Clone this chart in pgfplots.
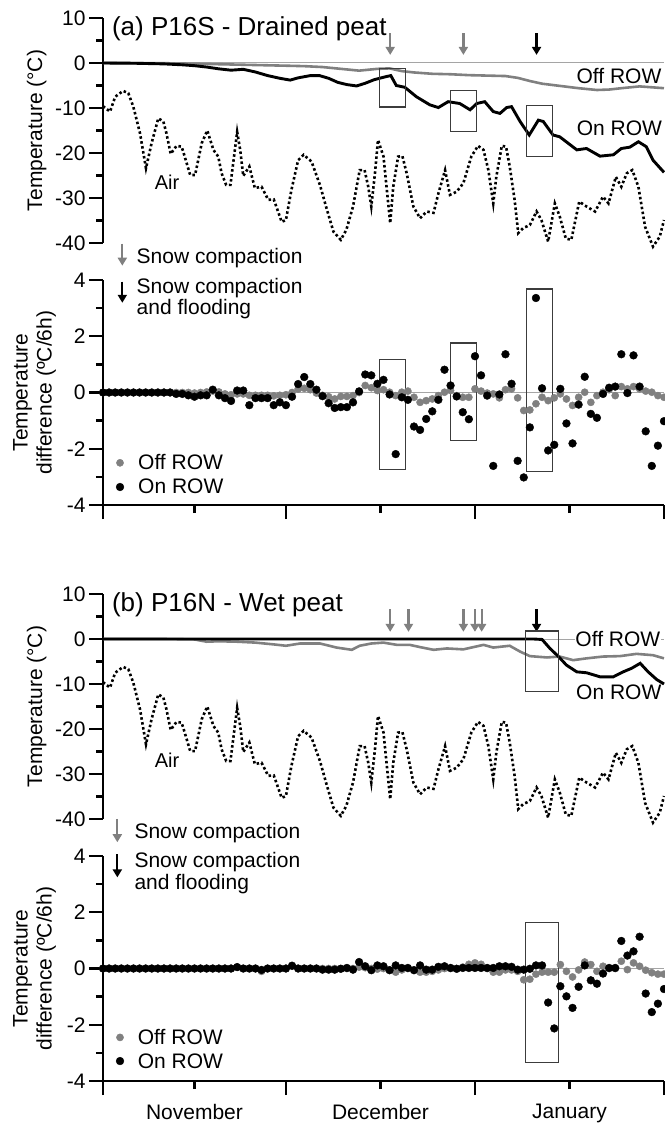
\documentclass[border=0pt]{standalone}
\usepackage{fontspec}
\setmainfont{Liberation Sans}
\usepackage{pgfplots}
\pgfplotsset{compat=1.18}
\usetikzlibrary{arrows.meta}

\definecolor{offrow}{RGB}{128,128,128}
\definecolor{zeroline}{RGB}{165,165,165}
\definecolor{boxline}{RGB}{60,60,60}

\newcommand{\lab}{\fontsize{21}{24}\selectfont}
\newcommand{\ttl}{\fontsize{26}{30}\selectfont}

\tikzset{box/.style={boxline, line width=1.2pt}}

\pgfplotsset{
  base/.style={
    scale only axis, width=561pt, height=225pt,
    xmin=0, xmax=92, clip=false,
    axis y line*=left,
    axis line style={-, line width=2.6pt},
    tick style={black, line width=2.4pt},
    tick align=outside,
    major tick length=14pt, minor tick length=7pt,
    minor y tick num=1,
    tick label style={font=\lab},
    label style={font=\lab},
    /pgf/number format/assume math mode=true,
  },
  temp/.style={base, axis x line=none, xtick=\empty,
    ymin=-40, ymax=10, ytick={-40,-30,...,10},
    ylabel={Temperature (°C)},
    ylabel style={at={(axis description cs:-0.118,0.5)}, anchor=center}},
  diff/.style={base, axis x line*=bottom,
    ymin=-4, ymax=4, ytick={-4,-2,...,4},
    xtick={0,30,61,92}, xticklabels={},
    extra x ticks={15,45.5,76.5},
    extra x tick style={major tick length=8pt},
    xticklabel style={yshift=-12pt},
    ylabel={Temperature\\difference (ºC/6h)},
    ylabel style={align=center, at={(axis description cs:-0.122,0.5)}, anchor=center}},
  offline/.style={offrow, line width=2.6pt},
  online/.style={black, line width=2.9pt},
  airline/.style={black, line width=2.6pt, dash pattern=on 2.5pt off 2.5pt},
  zero/.style={zeroline, line width=1pt},
  offdot/.style={only marks, mark=*, mark size=3.6pt, color=offrow},
  ondot/.style={only marks, mark=*, mark size=3.9pt, color=black},
  carrow/.style={offrow, line width=2.3pt, -{Triangle[width=9pt,length=8pt]}},
  farrow/.style={black, line width=2.3pt, -{Triangle[width=9pt,length=8pt]}},
}

\begin{document}
\begin{tikzpicture}

% ---------- (a) temperatures ----------
\begin{axis}[temp, at={(103pt,-243pt)}, anchor=south west]
\addplot[zero] coordinates {(0,0) (92,0)};
\addplot[offline] coordinates {
(0,0) (10,-0.05) (15,-0.15) (20,-0.3) (25,-0.45) (30,-0.6) (33,-0.7) (36,-0.9)
(39,-1.3) (42,-1.7) (45,-1.3) (47,-1.2) (49,-1.8) (51,-2.1) (54,-2.4) (57,-2.5)
(60,-2.7) (63,-2.8) (66,-2.9) (68,-3.3) (70,-4.0) (72,-4.6) (75,-5.1) (78,-5.6)
(81,-6.0) (83,-5.9) (85,-5.6) (88,-5.2) (90,-5.4) (92,-5.6)};
\addplot[online] coordinates {
(0,0) (5,-0.05) (10,-0.2) (13,-0.4) (15,-0.6) (17,-0.9) (19,-1.3) (21,-1.6)
(23,-1.4) (25,-2.0) (27,-2.8) (29,-3.4) (30.7,-3.8) (32,-3.3) (34,-2.8) (35.5,-2.8)
(37,-3.4) (38.5,-4.3) (40,-4.8) (41.6,-5.1) (43,-4.5) (44.5,-3.7) (46.5,-3.0)
(47.2,-2.8) (48.1,-5.0) (49.5,-5.4) (51.4,-7.5) (53.6,-9.3) (55,-9.9) (56.6,-8.6)
(58.5,-9.0) (60.2,-10.4) (61.3,-9.0) (62.6,-8.6) (64,-10.8) (65.1,-11.2) (66.2,-9.9)
(67,-9.7) (68.4,-13.0) (69.9,-16.0) (71.4,-12.7) (72.2,-13.0) (73.8,-16.0) (74.9,-16.4)
(77.7,-19.3) (79.3,-19.0) (81.5,-20.7) (83.7,-20.4) (85,-19.0) (86.4,-18.7) (87.8,-17.5)
(89.1,-18.6) (90.2,-21.6) (92,-24.3)};
\addplot[airline] coordinates {
(0,-9.6) (1.15,-10.8) (2.0,-7.5) (3.3,-6.2) (4.15,-6.7) (4.97,-9.7) (6.07,-15.6)
(7.05,-23.4) (7.97,-17.8) (9.07,-12.3) (9.9,-13) (10.4,-15.6) (11.1,-20.2) (12.07,-18.4)
(12.9,-18.6) (13.4,-20.8) (14.3,-24.9) (15.1,-24.9) (16.2,-17.8) (17.1,-15.0) (18.1,-19.3)
(18.9,-20.8) (19.45,-24.5) (20.2,-27.1) (20.9,-27.1) (22.0,-15.3) (22.5,-19.3) (23.0,-25.1)
(24.0,-23.0) (24.9,-27.8) (26.0,-27.5) (27.1,-30.4) (28.0,-30.3) (29.3,-35.3) (30.0,-34.9)
(30.9,-28.2) (32.0,-21.6) (32.9,-20.4) (34.2,-21.9) (35.6,-27.2) (36.7,-32.5) (37.8,-37.5)
(39.0,-39.3) (39.9,-37.1) (41.0,-31.9) (42.1,-23.8) (42.9,-23.8) (43.5,-27.5) (44.0,-31.9)
(44.6,-24.5) (45.1,-17.1) (46.0,-20.8) (46.5,-27.5) (47.1,-35.6) (47.6,-27.5) (48.4,-20.8)
(49.1,-20.7) (49.8,-24.5) (50.9,-31.9) (52.0,-34.5) (53.1,-33.0) (54.2,-33.3) (55.0,-29.0)
(56.1,-23.8) (56.9,-29.3) (58.0,-28.6) (59.1,-26.7) (60.4,-20.8) (61.5,-18.4) (62.4,-19.3)
(63.2,-23.8) (64.0,-31.2) (64.5,-25.3) (65.4,-18.4) (66.1,-18.6) (66.7,-23.0) (67.5,-30.4)
(68.1,-37.8) (68.9,-36.7) (70.0,-36.0) (71.1,-33.0) (71.9,-34.9) (73.0,-39.7) (74.1,-31.2)
(74.9,-34.1) (75.9,-39.0) (76.8,-39.3) (78.1,-30.8) (79.3,-31.9) (80.7,-33.0) (82.0,-29.7)
(82.9,-31.2) (84.1,-25.3) (85.0,-27.5) (85.9,-24.5) (86.8,-23.8) (87.8,-27.5) (88.9,-36.4)
(90.2,-40.8) (91.3,-38.6) (92.0,-34.9)};
\addplot[carrow] coordinates {(47.1,6.6) (47.1,1.8)};
\addplot[carrow] coordinates {(59.1,6.6) (59.1,1.8)};
\addplot[farrow] coordinates {(71.1,6.6) (71.1,1.8)};
\draw[box] (axis cs:45.3,-1.2) rectangle (axis cs:49.6,-9.8);
\draw[box] (axis cs:57.0,-6.1) rectangle (axis cs:61.3,-15.3);
\draw[box] (axis cs:69.4,-9.5) rectangle (axis cs:73.7,-20.7);
\node[anchor=base west, inner sep=0pt, font=\ttl] at (axis cs:1.45,6.2) {(a) P16S - Drained peat};
\node[font=\fontsize{20}{24}\selectfont] at (axis cs:10.5,-26.4) {Air};
\node[anchor=east, inner sep=0pt, font=\lab] at (axis cs:91.6,-2.9) {Off ROW};
\node[anchor=east, inner sep=0pt, font=\lab] at (axis cs:91.7,-14.4) {On ROW};
\end{axis}

% ---------- (a) differences ----------
\begin{axis}[diff, at={(103pt,-505pt)}, anchor=south west, extra x tick labels={}]
\addplot[zero] coordinates {(0,0) (92,0)};
\addplot[offdot] coordinates {
(0,0) (1,0) (2,0) (3,0) (4,0) (5,0) (6,0) (7,0) (8,0) (9,0) (10,0) (11,0) (12,0)
(13,0) (14,0) (15,-0.02) (16,0) (17,0.02) (18,0.05) (19,0.02) (20,-0.05) (21,-0.08)
(22,-0.05) (23,-0.05) (24,-0.1) (25,-0.1) (26,-0.1) (27,-0.1) (28,-0.12) (29,-0.1)
(30,-0.08) (31,0) (32,0.12) (33,0.15) (34,0.1) (35,-0.02) (36,-0.1) (37,-0.15)
(38,-0.23) (39,-0.14) (40,-0.14) (41,-0.11) (42,0) (43,0.25) (44,0.17) (45,0.07)
(46,0.1) (47,0.01) (48,-0.11) (49,0.01) (50,0.05) (51,-0.17) (52,-0.35) (53,-0.29)
(54,-0.23) (55,-0.11) (56,0.01) (57,0.07) (58,-0.11) (59,-0.17) (60,-0.17) (61,0.13)
(62,0.05) (63,-0.02) (64,-0.05) (65,-0.19) (66,0.1) (67,0.13) (68,-0.19) (69,-0.64)
(70,-0.62) (71,-0.4) (72,-0.17) (73,-0.29) (74,-0.19) (75,-0.05) (76,-0.23) (77,-0.46)
(78,-0.17) (79,0.01) (80,-0.35) (81,-0.11) (82,0.01) (83,0.1) (84,-0.11) (85,0.21)
(86,0.13) (87,0.21) (88,0.13) (89,0.05) (90,0.01) (91,-0.11) (92,-0.17)};
\addplot[ondot] coordinates {
(0,0) (1,0) (2,0) (3,0) (4,0) (5,0) (6,0) (7,0) (8,0) (9,0) (10,0) (11,0) (12,-0.05)
(13,-0.05) (14,-0.1) (15,-0.15) (16,-0.1) (17,-0.1) (18,0.1) (19,-0.1) (20,-0.2)
(21,-0.3) (22,0.07) (23,0.07) (24,-0.45) (25,-0.2) (26,-0.2) (27,-0.2) (28,-0.45)
(29,-0.35) (30,-0.45) (31,-0.15) (32,0.3) (33,0.55) (34,0.3) (35,0.1) (36,-0.13)
(37,-0.38) (38,-0.55) (39,-0.52) (40,-0.52) (41,-0.35) (42,0.04) (43,0.64) (44,0.61)
(45,0.31) (46,0.45) (47,-0.07) (48,-2.19) (49,-0.17) (50,-0.26) (51,-1.21) (52,-1.33)
(53,-0.94) (54,-0.67) (55,-0.26) (56,0.81) (57,0.25) (58,-0.14) (59,-0.7) (60,-0.95)
(61,1.29) (62,0.61) (63,-0.11) (64,-2.61) (65,-0.07) (66,1.36) (67,0.31) (68,-2.43)
(69,-3.02) (70,-1.24) (71,3.36) (72,0.15) (73,-2.06) (74,-1.86) (75,0.13) (76,-1.1)
(77,-1.81) (78,-0.43) (79,0.56) (80,-0.76) (81,-0.9) (82,-0.05) (83,0.17) (84,0.21)
(85,1.36) (86,-0.02) (87,1.32) (88,0.21) (89,-1.38) (90,-2.61) (91,-1.89) (92,-1.02)};
\draw[box] (axis cs:45.3,1.17) rectangle (axis cs:49.6,-2.75);
\draw[box] (axis cs:57.0,1.76) rectangle (axis cs:61.3,-1.71);
\draw[box] (axis cs:69.4,3.68) rectangle (axis cs:73.7,-2.81);
% key: snow events
\addplot[carrow] coordinates {(3.17,5.29) (3.17,4.51)};
\node[anchor=base west, inner sep=0pt, font=\lab] at (axis cs:5.5,4.57) {Snow compaction};
\addplot[farrow] coordinates {(3.17,3.94) (3.17,3.19)};
\node[anchor=base west, inner sep=0pt, font=\lab] at (axis cs:5.5,3.53) {Snow compaction};
\node[anchor=base west, inner sep=0pt, font=\lab] at (axis cs:5.5,2.79) {and flooding};
% key: series
\addplot[offdot] coordinates {(2.79,-2.5)};
\addplot[ondot] coordinates {(2.79,-3.36)};
\node[anchor=base west, inner sep=0pt, font=\lab] at (axis cs:5.74,-2.73) {Off ROW};
\node[anchor=base west, inner sep=0pt, font=\lab] at (axis cs:5.74,-3.58) {On ROW};
\end{axis}

% ---------- (b) temperatures ----------
\begin{axis}[temp, at={(103pt,-819pt)}, anchor=south west]
\addplot[zero] coordinates {(0,0) (92,0)};
\addplot[offline] coordinates {
(0,0) (10,0) (15,-0.1) (17,-0.6) (19,-0.5) (22,-0.6) (25,-0.8) (28,-1.2) (30,-1.5)
(32.3,-1.0) (35.6,-1.0) (38.3,-1.9) (40.8,-2.4) (42.1,-1.5) (44,-1.0) (46,-0.8)
(48.2,-1.3) (50.3,-1.3) (52,-1.8) (54.2,-2.4) (56.4,-2.1) (59.1,-2.3) (62.4,-1.3)
(64,-1.9) (66.7,-1.5) (68.4,-2.8) (70,-3.8) (72.8,-4.1) (74.9,-3.9) (77.1,-4.7)
(79.3,-4.3) (82,-3.9) (84.8,-3.8) (87.5,-3.3) (90.2,-3.6) (92,-4.3)};
\addplot[online] coordinates {
(0,0) (69,0) (70.6,0) (72,-0.1) (73.3,-2.1) (74.7,-3.9) (76,-5.8) (77.7,-7.3)
(79.3,-7.5) (81.5,-8.4) (83.7,-8.4) (85.3,-7.3) (86.7,-6.5) (88.1,-5.4) (89.4,-7.3)
(90.8,-9.0) (92,-10.0)};
\addplot[airline] coordinates {
(0,-9.6) (1.15,-10.8) (2.0,-7.5) (3.3,-6.2) (4.15,-6.7) (4.97,-9.7) (6.07,-15.6)
(7.05,-23.4) (7.97,-17.8) (9.07,-12.3) (9.9,-13) (10.4,-15.6) (11.1,-20.2) (12.07,-18.4)
(12.9,-18.6) (13.4,-20.8) (14.3,-24.9) (15.1,-24.9) (16.2,-17.8) (17.1,-15.0) (18.1,-19.3)
(18.9,-20.8) (19.45,-24.5) (20.2,-27.1) (20.9,-27.1) (22.0,-15.3) (22.5,-19.3) (23.0,-25.1)
(24.0,-23.0) (24.9,-27.8) (26.0,-27.5) (27.1,-30.4) (28.0,-30.3) (29.3,-35.3) (30.0,-34.9)
(30.9,-28.2) (32.0,-21.6) (32.9,-20.4) (34.2,-21.9) (35.6,-27.2) (36.7,-32.5) (37.8,-37.5)
(39.0,-39.3) (39.9,-37.1) (41.0,-31.9) (42.1,-23.8) (42.9,-23.8) (43.5,-27.5) (44.0,-31.9)
(44.6,-24.5) (45.1,-17.1) (46.0,-20.8) (46.5,-27.5) (47.1,-35.6) (47.6,-27.5) (48.4,-20.8)
(49.1,-20.7) (49.8,-24.5) (50.9,-31.9) (52.0,-34.5) (53.1,-33.0) (54.2,-33.3) (55.0,-29.0)
(56.1,-23.8) (56.9,-29.3) (58.0,-28.6) (59.1,-26.7) (60.4,-20.8) (61.5,-18.4) (62.4,-19.3)
(63.2,-23.8) (64.0,-31.2) (64.5,-25.3) (65.4,-18.4) (66.1,-18.6) (66.7,-23.0) (67.5,-30.4)
(68.1,-37.8) (68.9,-36.7) (70.0,-36.0) (71.1,-33.0) (71.9,-34.9) (73.0,-39.7) (74.1,-31.2)
(74.9,-34.1) (75.9,-39.0) (76.8,-39.3) (78.1,-30.8) (79.3,-31.9) (80.7,-33.0) (82.0,-29.7)
(82.9,-31.2) (84.1,-25.3) (85.0,-27.5) (85.9,-24.5) (86.8,-23.8) (87.8,-27.5) (88.9,-36.4)
(90.2,-40.8) (91.3,-38.6) (92.0,-34.9)};
\addplot[carrow] coordinates {(47.1,6.6) (47.1,1.6)};
\addplot[carrow] coordinates {(50.1,6.6) (50.1,1.6)};
\addplot[carrow] coordinates {(59.1,6.6) (59.1,1.6)};
\addplot[carrow] coordinates {(61.0,6.6) (61.0,1.6)};
\addplot[carrow] coordinates {(62.1,6.6) (62.1,1.6)};
\addplot[farrow] coordinates {(71.1,6.6) (71.1,1.6)};
\draw[box] (axis cs:69.3,1.8) rectangle (axis cs:74.7,-11.7);
\node[anchor=base west, inner sep=0pt, font=\ttl] at (axis cs:1.45,6.2) {(b) P16N - Wet peat};
\node[font=\fontsize{20}{24}\selectfont] at (axis cs:10.5,-26.9) {Air};
\node[anchor=east, inner sep=0.5pt, fill=white, font=\lab] at (axis cs:91.5,-0.1) {Off ROW};
\node[anchor=east, inner sep=0pt, font=\lab] at (axis cs:91.6,-11.9) {On ROW};
\end{axis}

% ---------- (b) differences ----------
\begin{axis}[diff, at={(103pt,-1081pt)}, anchor=south west,
  extra x tick labels={November,December,January}]
\addplot[zero] coordinates {(0,0) (92,0)};
\addplot[offdot] coordinates {
(0,0) (1,0) (2,0) (3,0) (4,0) (5,0) (6,0) (7,0) (8,0) (9,0) (10,0) (11,0) (12,0)
(13,0) (14,0) (15,0) (16,0) (17,0) (18,0) (19,0) (20,0) (21,0) (22,0.05) (23,0)
(24,0) (25,0) (26,-0.1) (27,0) (28,0) (29,0) (30,0) (31,0.08) (32,0) (33,0) (34,0)
(35,0) (36,0) (37,0) (38,0) (39,0) (40,0) (41,0) (42,0.05) (43,0.03) (44,0)
(45,-0.02) (46,0) (47,-0.05) (48,-0.13) (49,-0.05) (50,0) (51,-0.05) (52,-0.13)
(53,-0.13) (54,-0.1) (55,-0.05) (56,0) (57,0) (58,0) (59,0.05) (60,0.15) (61,0.2)
(62,0.15) (63,0) (64,-0.13) (65,-0.13) (66,-0.05) (67,-0.05) (68,-0.1) (69,-0.4)
(70,-0.38) (71,-0.2) (72,-0.13) (73,-0.13) (74,-0.13) (75,0.14) (76,-0.1) (77,-0.3)
(78,-0.05) (79,0.23) (80,0.14) (81,-0.1) (82,0.08) (83,0) (84,0) (85,0.26) (86,-0.04)
(87,0.2) (88,0.08) (89,-0.06) (90,-0.15) (91,-0.2) (92,-0.2)};
\addplot[ondot] coordinates {
(0,0) (1,0) (2,0) (3,0) (4,0) (5,0) (6,0) (7,0) (8,0) (9,0) (10,0) (11,0) (12,0)
(13,0) (14,0) (15,0) (16,0) (17,0) (18,0) (19,0) (20,0) (21,0) (22,0.05) (23,0)
(24,0) (25,0) (26,-0.05) (27,0) (28,0) (29,0) (30,0) (31,0.1) (32,0) (33,0) (34,0)
(35,0) (36,-0.04) (37,-0.04) (38,-0.04) (39,-0.01) (40,0.02) (41,-0.04) (42,0.23)
(43,0.08) (44,-0.06) (45,0.11) (46,0.08) (47,-0.06) (48,0.11) (49,0.02) (50,0.02)
(51,-0.06) (52,0.11) (53,-0.04) (54,-0.04) (55,0.06) (56,0.08) (57,0.02) (58,-0.01)
(59,0.02) (60,0.02) (61,0.02) (62,0.02) (63,0.02) (64,0.02) (65,0.08) (66,0.08)
(67,0.06) (68,-0.04) (69,-0.04) (70,-0.01) (71,0.11) (72,0.11) (73,-1.21) (74,-2.13)
(75,-0.63) (76,-0.99) (77,-1.4) (78,-0.65) (79,0.11) (80,-0.42) (81,-0.54) (82,-0.18)
(83,0.02) (84,0.02) (85,0.98) (86,0.46) (87,0.61) (88,1.13) (89,-0.89) (90,-1.55)
(91,-1.25) (92,-0.73)};
\draw[box] (axis cs:69.3,1.65) rectangle (axis cs:74.7,-3.35);
% key: snow events
\addplot[carrow] coordinates {(2.35,5.32) (2.35,4.49)};
\node[anchor=base west, inner sep=0pt, font=\lab] at (axis cs:5.14,4.63) {Snow compaction};
\addplot[farrow] coordinates {(2.35,4.07) (2.35,3.24)};
\node[anchor=base west, inner sep=0pt, font=\lab] at (axis cs:5.14,3.6) {Snow compaction};
\node[anchor=base west, inner sep=0pt, font=\lab] at (axis cs:5.14,2.8) {and flooding};
% key: series
\addplot[offdot] coordinates {(2.79,-2.45)};
\addplot[ondot] coordinates {(2.79,-3.29)};
\node[anchor=base west, inner sep=0pt, font=\lab] at (axis cs:5.69,-2.71) {Off ROW};
\node[anchor=base west, inner sep=0pt, font=\lab] at (axis cs:5.69,-3.55) {On ROW};
\end{axis}

\pgfresetboundingbox
\path[use as bounding box] (0pt,0pt) rectangle (664pt,-1123pt);
\end{tikzpicture}
\end{document}
